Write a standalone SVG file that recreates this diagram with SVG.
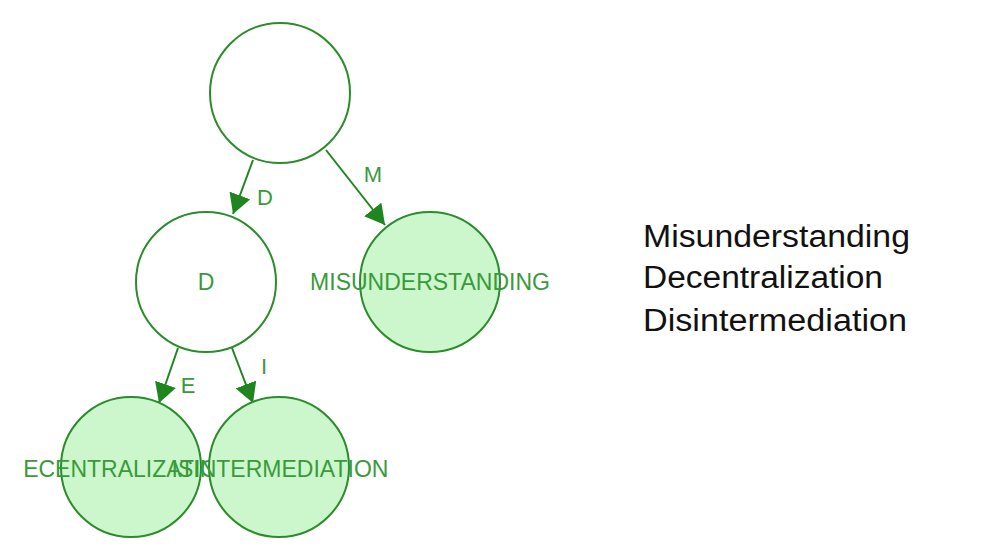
<svg xmlns="http://www.w3.org/2000/svg" width="981" height="549" viewBox="0 0 981 549">
<style>
.node{stroke:#2a8c2a;stroke-width:2}
.open{fill:#ffffff}
.leaf{fill:#ccf7cc}
.lbl{font-family:"Liberation Sans",Arial,sans-serif;font-size:23px;fill:#3a9a3a;text-anchor:middle}
.elbl{font-family:"Liberation Sans",Arial,sans-serif;font-size:22px;fill:#3a9a3a;text-anchor:middle}
.edge{stroke:#1f861f;stroke-width:2;fill:none;marker-end:url(#arr)}
.side{font-family:"Liberation Sans",Arial,sans-serif;font-size:31px;fill:#111}
</style>
<defs>
<marker id="arr" markerUnits="userSpaceOnUse" markerWidth="22" markerHeight="22" viewBox="0 0 20 20" refX="18" refY="10" orient="auto">
<path d="M0,0 L18,10 L0,20 Z" fill="#1f861f"/>
</marker>
</defs>
<rect width="981" height="549" fill="#ffffff"/>
<g id="connectors">
<line class="edge" x1="253" y1="160" x2="233" y2="214"/>
<line class="edge" x1="326" y1="150" x2="385" y2="225"/>
<line class="edge" x1="178" y1="348" x2="159" y2="403"/>
<line class="edge" x1="232" y1="348" x2="253" y2="403"/>
<text class="elbl" x="265" y="205">D</text>
<text class="elbl" x="373" y="182">M</text>
<text class="elbl" x="188" y="393">E</text>
<text class="elbl" x="264" y="374">I</text>
</g>
<g id="root">
<circle class="node open" cx="280" cy="93" r="70"/>
</g>
<g id="node-d">
<circle class="node open" cx="206" cy="282" r="70"/>
<text class="lbl" x="206" y="290">D</text>
</g>
<g id="node-misunderstanding">
<circle class="node leaf" cx="430" cy="282" r="70"/>
<text class="lbl" x="430" y="290">MISUNDERSTANDING</text>
</g>
<g id="node-ecentralization">
<circle class="node leaf" cx="131" cy="467" r="70"/>
<text class="lbl" x="129" y="477">ECENTRALIZATION</text>
</g>
<g id="node-isintermediation">
<circle class="node leaf" cx="279" cy="467" r="70"/>
<text class="lbl" x="280" y="477">ISINTERMEDIATION</text>
</g>
<g id="word-list">
<text class="side" x="643" y="247" textLength="267" lengthAdjust="spacingAndGlyphs">Misunderstanding</text>
<text class="side" x="643" y="288" textLength="240" lengthAdjust="spacingAndGlyphs">Decentralization</text>
<text class="side" x="643" y="331" textLength="264" lengthAdjust="spacingAndGlyphs">Disintermediation</text>
</g>
</svg>
